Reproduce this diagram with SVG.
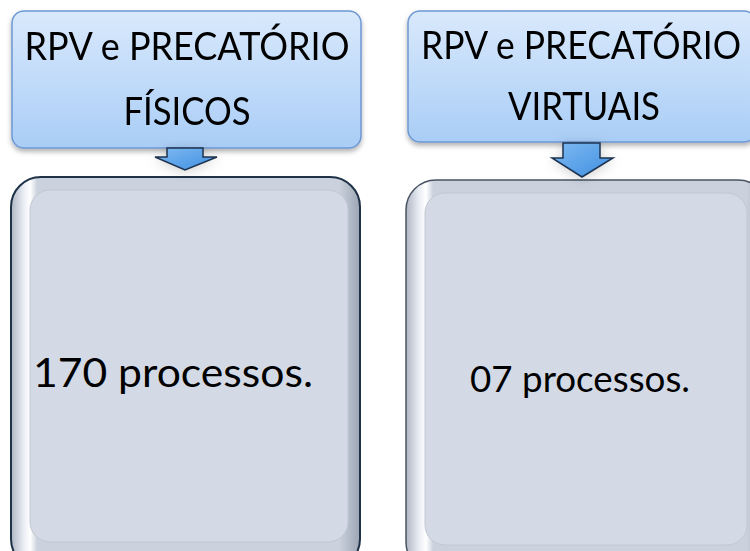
<svg xmlns="http://www.w3.org/2000/svg" width="750" height="551" viewBox="0 0 750 551">
<style>
.t{font-family:Lato,"Open Sans","Liberation Sans",sans-serif;fill:#000;text-anchor:middle}
.top{fill:url(#gTop);stroke:#6d98d2;stroke-width:1.5}
.outer{fill:url(#gBevel)}
.inner{fill:#d3dae6;stroke:#c2c8d3;stroke-width:1}
.arrow{fill:url(#gArrow);stroke:#1e3350;stroke-width:1.5;stroke-linejoin:miter}
</style>
<defs>
<linearGradient id="gTop" x1="0" y1="0" x2="0" y2="1">
<stop offset="0" stop-color="#d9e9fc"/>
<stop offset="1" stop-color="#a9cdf6"/>
</linearGradient>
<linearGradient id="gBevel" x1="0" y1="0" x2="1" y2="0">
<stop offset="0" stop-color="#aeb6c4"/>
<stop offset="0.035" stop-color="#e8ecf3"/>
<stop offset="0.055" stop-color="#ffffff"/>
<stop offset="0.075" stop-color="#cbd2dd"/>
<stop offset="0.94" stop-color="#cbd2dd"/>
<stop offset="1" stop-color="#9ca5b4"/>
</linearGradient>
<linearGradient id="gArrow" x1="0" y1="0" x2="1" y2="1">
<stop offset="0" stop-color="#7fbaf2"/>
<stop offset="1" stop-color="#3f8fe0"/>
</linearGradient>
<filter id="sh" x="-10%" y="-10%" width="120%" height="130%">
<feDropShadow dx="0" dy="3" stdDeviation="2.5" flood-color="#000" flood-opacity="0.3"/>
</filter>
<filter id="sh2" x="-30%" y="-30%" width="160%" height="200%">
<feDropShadow dx="0" dy="2" stdDeviation="6" flood-color="#000" flood-opacity="0.18"/>
</filter>
</defs>

<g id="bottom-left">
<rect class="outer" x="11" y="177" width="349" height="392" rx="30" stroke="#1f3248" stroke-width="2"/>
<rect class="inner" x="30" y="190" width="318" height="352" rx="20"/>
<text class="t" x="173" y="387" font-size="41" textLength="280" lengthAdjust="spacingAndGlyphs">170 processos.</text>
</g>

<g id="bottom-right">
<rect class="outer" x="406" y="180" width="362" height="392" rx="30" stroke="#4a5362" stroke-width="1.5"/>
<rect class="inner" x="425" y="193" width="322" height="352" rx="20"/>
<text class="t" x="580" y="392" font-size="36" textLength="220" lengthAdjust="spacingAndGlyphs">07 processos.</text>
</g>

<g id="top-left" filter="url(#sh)">
<rect class="top" x="12" y="11" width="349" height="137" rx="12"/>
<text class="t" x="187" y="60" font-size="38" textLength="325" lengthAdjust="spacingAndGlyphs">RPV e PRECATÓRIO</text>
<text class="t" x="187" y="125" font-size="38" textLength="127" lengthAdjust="spacingAndGlyphs">FÍSICOS</text>
</g>

<g id="top-right" filter="url(#sh)">
<rect class="top" x="408" y="11" width="348" height="131" rx="12"/>
<text class="t" x="581" y="59" font-size="38" textLength="320" lengthAdjust="spacingAndGlyphs">RPV e PRECATÓRIO</text>
<text class="t" x="584" y="120" font-size="38" textLength="152" lengthAdjust="spacingAndGlyphs">VIRTUAIS</text>
</g>

<g id="connectors">
<polygon class="arrow" filter="url(#sh2)" points="167,148 203,148 203,157 217,157 185,170 155,157 167,157"/>
<polygon class="arrow" filter="url(#sh2)" points="563,143 600,143 600,158 613,158 582,177 552,158 563,158"/>
</g>
</svg>
